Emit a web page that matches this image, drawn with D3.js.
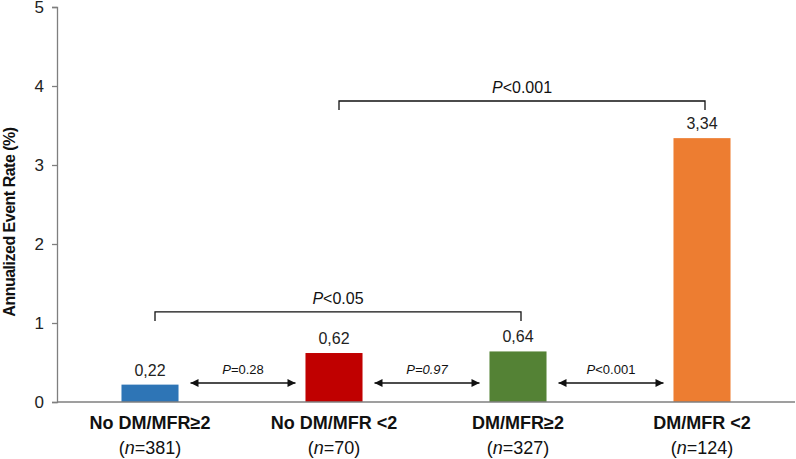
<!DOCTYPE html>
<html><head><meta charset="utf-8">
<script src="https://cdn.jsdelivr.net/npm/d3@7/dist/d3.min.js"></script>
<style>body{margin:0;background:#fff;} svg{display:block;font-family:"Liberation Sans",Arial,sans-serif;}</style>
</head><body>
<script>
const categories = ["No DM/MFR\u22652", "No DM/MFR <2", "DM/MFR\u22652", "DM/MFR <2"];
const nValues = ["381", "70", "327", "124"];
const values = [0.22, 0.62, 0.64, 3.34];
const valueLabels = ["0,22", "0,62", "0,64", "3,34"];
const colors = ["#2e75b6", "#c00000", "#548235", "#ed7d31"];
const yTicks = [0, 1, 2, 3, 4, 5];
const adjacentTests = [
  {from: 0, to: 1, label: "=0.28", italicAll: false},
  {from: 1, to: 2, label: "=0.97", italicAll: true},
  {from: 2, to: 3, label: "<0.001", italicAll: false}
];
const brackets = [
  {from: 0, to: 2, level: 1.14, label: "<0.05"},
  {from: 1, to: 3, level: 3.81, label: "<0.001"}
];

const W = 796, H = 459;
const svg = d3.select("body").append("svg").attr("width", W).attr("height", H);

const x = d3.scaleBand().domain(d3.range(categories.length)).range([58, 794])
  .paddingInner(0.69).paddingOuter(0.345);
const y = d3.scaleLinear().domain([0, 5]).range([402, 7]);

// y axis
const yAxis = svg.append("g").attr("transform", "translate(57,0)")
  .call(d3.axisLeft(y).tickValues(yTicks).tickSize(5).tickPadding(8).tickFormat(d3.format("d")));
yAxis.select(".domain").attr("stroke", "#7f7f7f").attr("stroke-width", 1.3);
yAxis.selectAll(".tick line").attr("stroke", "#7f7f7f").attr("stroke-width", 1.3);
yAxis.selectAll(".tick text").attr("font-size", 17).attr("fill", "#222").attr("font-family", "Liberation Sans, Arial, sans-serif");

// bars
svg.selectAll("rect.bar").data(values).join("rect").attr("class", "bar")
  .attr("x", (d, i) => x(i)).attr("width", x.bandwidth())
  .attr("y", d => y(d)).attr("height", d => y(0) - y(d))
  .attr("fill", (d, i) => colors[i]);

// x axis line
svg.append("line").attr("x1", 57).attr("x2", 795).attr("y1", y(0)).attr("y2", y(0))
  .attr("stroke", "#7f7f7f").attr("stroke-width", 1.5);

// value labels
svg.selectAll("text.val").data(values).join("text").attr("class", "val")
  .attr("x", (d, i) => x(i) + x.bandwidth() / 2).attr("y", d => y(d) - 9)
  .attr("text-anchor", "middle").attr("font-size", 16).attr("fill", "#222")
  .text((d, i) => valueLabels[i]);

// category labels
const cx = i => x(i) + x.bandwidth() / 2;
svg.selectAll("text.cat").data(categories).join("text").attr("class", "cat")
  .attr("x", (d, i) => cx(i)).attr("y", 429).attr("text-anchor", "middle")
  .attr("font-size", 18).attr("font-weight", "bold").attr("fill", "#111").text(d => d);
const nt = svg.selectAll("text.n").data(nValues).join("text").attr("class", "n")
  .attr("x", (d, i) => cx(i)).attr("y", 454).attr("text-anchor", "middle")
  .attr("font-size", 18).attr("fill", "#111");
nt.append("tspan").text("(");
nt.append("tspan").attr("font-style", "italic").text("n");
nt.append("tspan").text(d => "=" + d + ")");

// arrow marker
const defs = svg.append("defs");
["s", "e"].forEach(k => {
  defs.append("marker").attr("id", "arr" + k).attr("viewBox", "0 0 10 10")
    .attr("refX", k === "e" ? 10 : 0).attr("refY", 5).attr("markerWidth", 10).attr("markerHeight", 8)
    .attr("markerUnits", "userSpaceOnUse").attr("orient", "auto")
    .append("path").attr("d", k === "e" ? "M0,0 L10,5 L0,10 Z" : "M10,0 L0,5 L10,10 Z").attr("fill", "#111");
});

adjacentTests.forEach(t => {
  const x1 = x(t.from) + x.bandwidth() + 12;
  const x2 = x(t.to) - 10;
  const yy = 383;
  svg.append("line").attr("x1", x1).attr("x2", x2).attr("y1", yy).attr("y2", yy)
    .attr("stroke", "#111").attr("stroke-width", 1.3)
    .attr("marker-start", "url(#arrs)").attr("marker-end", "url(#arre)");
  const tx = svg.append("text").attr("x", (x1 + x2) / 2).attr("y", 374)
    .attr("text-anchor", "middle").attr("font-size", 13).attr("fill", "#111");
  tx.append("tspan").attr("font-style", "italic").text("P");
  tx.append("tspan").attr("font-style", t.italicAll ? "italic" : "normal").text(t.label);
});

brackets.forEach(b => {
  const x1 = cx(b.from) + 5, x2 = cx(b.to) + 3;
  const yy = y(b.level);
  svg.append("path").attr("d", `M${x1},${yy + 9}V${yy}H${x2}V${yy + 9}`)
    .attr("fill", "none").attr("stroke", "#111").attr("stroke-width", 1.3);
  const tx = svg.append("text").attr("x", (x1 + x2) / 2).attr("y", yy - 8)
    .attr("text-anchor", "middle").attr("font-size", 16).attr("fill", "#111");
  tx.append("tspan").attr("font-style", "italic").text("P");
  tx.append("tspan").text(b.label);
});

// y title
svg.append("text").attr("transform", "translate(15,222) rotate(-90)")
  .attr("text-anchor", "middle").attr("font-size", 16).attr("font-weight", "bold")
  .attr("letter-spacing", -0.5).attr("fill", "#111").text("Annualized Event Rate (%)");
</script>
</body></html>
